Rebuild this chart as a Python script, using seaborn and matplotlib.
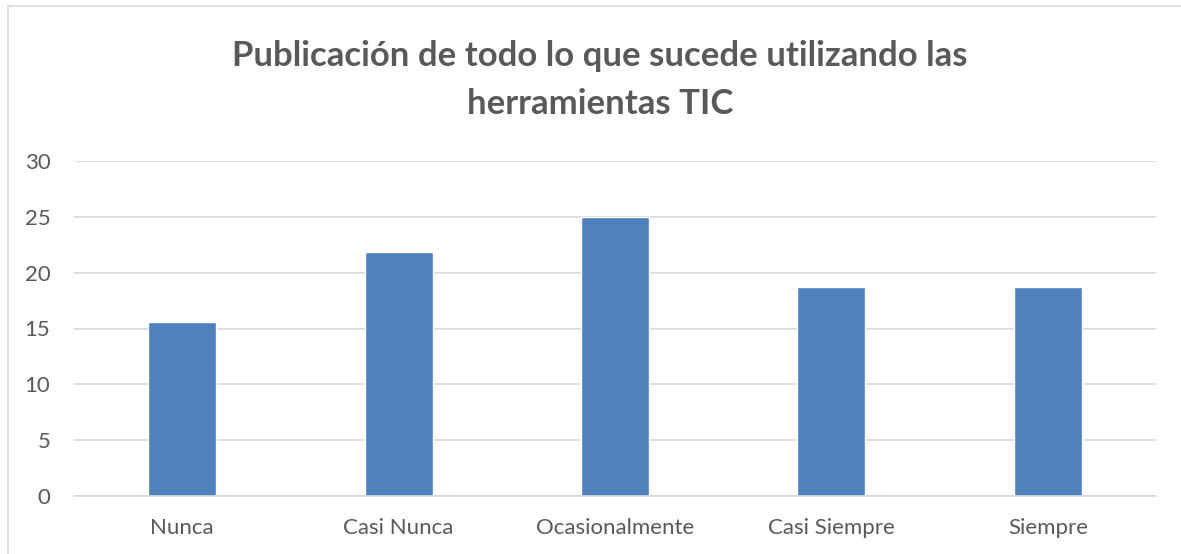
import pandas as pd
import numpy as np
import matplotlib
matplotlib.use("Agg")
import matplotlib.pyplot as plt
import seaborn as sns
from matplotlib.lines import Line2D

categorias = ['Nunca', 'Casi Nunca', 'Ocasionalmente', 'Casi Siempre', 'Siempre']
porcentajes = [15.625, 21.875, 25.0, 18.75, 18.75]
titulo = 'Publicación de todo lo que sucede utilizando las\nherramientas TIC'

df = pd.DataFrame({'cat': categorias, 'val': porcentajes})

sns.set_style('white')
plt.rcParams['font.family'] = ['Lato', 'DejaVu Sans']

fig = plt.figure(figsize=(11.81, 5.54), dpi=100)
ax = fig.add_axes([74/1181, 1 - 496/554, (1156 - 74)/1181, (496 - 161)/554])

sns.barplot(data=df, x='cat', y='val', color='#4F81BD', saturation=1, width=0.315, ax=ax)

ax.set_ylim(0, 30)
ax.set_yticks([0, 5, 10, 15, 20, 25, 30])
ax.yaxis.grid(True, color='#D9D9D9', linewidth=1.2)
ax.set_axisbelow(True)
for s in ['top', 'right', 'left']:
    ax.spines[s].set_visible(False)
ax.spines['bottom'].set_color('#D9D9D9')
ax.spines['bottom'].set_linewidth(1.2)
ax.tick_params(axis='both', length=0, labelsize=16, labelcolor='#595959')
ax.tick_params(axis='x', pad=16)
ax.tick_params(axis='y', pad=17)
ax.set_xlabel('')
ax.set_ylabel('')

fig.text(600/1181, 1 - 80/554, titulo, ha='center', va='center', fontsize=25,
         fontweight='bold', color='#595959', linespacing=1.6)

# marco del grafico
fig.add_artist(Line2D([8/1181, 8/1181], [0, 1 - 6/554], color='#D9D9D9', lw=1.2))
fig.add_artist(Line2D([8/1181, 1], [1 - 6/554, 1 - 6/554], color='#D9D9D9', lw=1.2))

fig.savefig('out.png', dpi=100)
